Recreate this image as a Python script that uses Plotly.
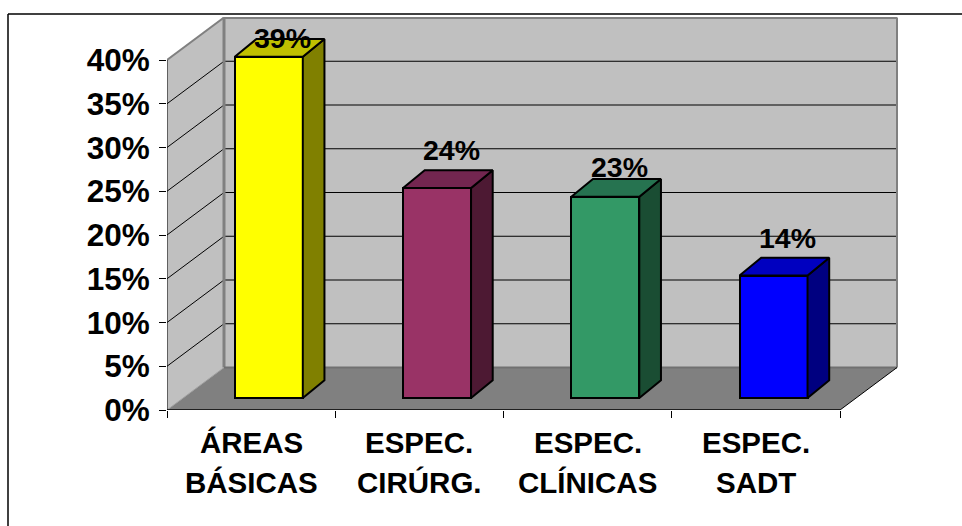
import plotly.graph_objects as go

# ---- data
categories = [["ÁREAS", "BÁSICAS"], ["ESPEC.", "CIRÚRG."], ["ESPEC.", "CLÍNICAS"], ["ESPEC.", "SADT"]]
values = [39, 24, 23, 14]
y_ticks = [0, 5, 10, 15, 20, 25, 30, 35, 40]

# ---- styles
front_colors = ["#FFFF00", "#993366", "#339966", "#0000FF"]
side_colors = ["#808000", "#4D1933", "#1A4D33", "#000080"]
top_colors = ["#C0C000", "#732650", "#267350", "#0000C0"]
label_lift_px = [19, 38, 30, 38]     # manual placement above each front top edge
FONT = "Liberation Sans"

# ---- geometry (page pixels -> axis units)
W, H = 962, 526
L, R, T, B = 167, 898, 17, 410
PX_X = 168.25
PX_Y = 8.75
X0 = -0.5
X_MAX = X0 + (R - L) / PX_X
Y_MAX = (B - T) / PX_Y
DX = 57 / PX_X          # depth of the floor
DY = 42.5 / PX_Y
BAR_W = 68 / PX_X
D0, D1 = 0.31, 0.69     # bar's start/end within the depth (horizontal)
E0, E1 = 0.28, 0.70     # bar's start/end within the depth (vertical)
N = len(values)


def proj(x, y, d):
    return x + d * DX, y + d * DY


def bar_pt(x, y, near):
    return x + (D0 if near else D1) * DX, y + (E0 if near else E1) * DY


def px_paper(px, py):
    return (px - L) / (R - L), (B - py) / (B - T)


shapes = []


def poly(points, fill):
    path = "M" + " L".join(f"{x},{y}" for x, y in points) + " Z"
    shapes.append(dict(type="path", path=path, xref="x", yref="y", layer="below",
                       fillcolor=fill, line=dict(color=fill, width=0)))


def seg(a, b, color="#000000", width=1):
    shapes.append(dict(type="line", xref="x", yref="y", layer="below", x0=a[0], y0=a[1], x1=b[0], y1=b[1],
                       line=dict(color=color, width=width)))


XR = X0 + N
top = y_ticks[-1]
# walls and floor
poly([proj(X0, 0, 1), proj(XR, 0, 1), proj(XR, top, 1), proj(X0, top, 1)], "#C0C0C0")
poly([proj(X0, 0, 0), proj(X0, 0, 1), proj(X0, top, 1), proj(X0, top, 0)], "#C0C0C0")
poly([proj(X0, 0, 0), proj(XR, 0, 0), proj(XR, 0, 1), proj(X0, 0, 1)], "#808080")
# gridlines on both walls
for t in y_ticks[1:-1]:
    seg(proj(X0, t, 0), proj(X0, t, 1), "#000000", 1)
    seg(proj(X0, t, 1), proj(XR, t, 1), "#000000", 1)
# wall edges
seg(proj(X0, 0, 1), proj(X0, top, 1), "#808080", 3)
seg(proj(X0, top, 1), proj(XR, top, 1), "#808080", 3)
seg(proj(XR, top, 1), proj(XR, 0, 1), "#808080", 2)
seg(proj(X0, top, 0), proj(X0, top, 1), "#808080", 2)
seg(proj(X0, 0, 1), proj(XR, 0, 1), "#707070", 2)
seg(proj(X0, 0, 0), proj(X0, 0, 1), "#A0A0A0", 1)
# front axis lines
seg(proj(X0, 0, 0), proj(X0, top, 0), "#000000", 1)
seg(proj(X0, 0, 0), proj(XR, 0, 0), "#000000", 1.5)
seg(proj(XR, 0, 0), proj(XR, 0, 1), "#000000", 1)

# outer frame, open at the right and bottom
fx, fy = px_paper(8, 14)
_, by = px_paper(8, H)
rx, _ = px_paper(W, 14)
shapes.append(dict(type="line", xref="paper", yref="paper", x0=fx, x1=rx, y0=fy, y1=fy,
                   line=dict(color="#000000", width=1.5), layer="below"))
shapes.append(dict(type="line", xref="paper", yref="paper", x0=fx, x1=fx, y0=fy, y1=by,
                   line=dict(color="#000000", width=1.5), layer="below"))

fig = go.Figure()
xs = list(range(N))
lift = E0 * DY

# bars: front faces
fig.add_trace(go.Bar(
    x=[i + D0 * DX for i in xs], y=values, base=[lift] * N, width=BAR_W,
    marker=dict(color=front_colors, line=dict(color="#000000", width=2)),
    showlegend=False, hoverinfo="skip"))

# side and top faces
for i, v in enumerate(values):
    xl = i - BAR_W / 2
    xr = i + BAR_W / 2
    face_side = [bar_pt(xr, 0, True), bar_pt(xr, 0, False), bar_pt(xr, v, False), bar_pt(xr, v, True)]
    face_top = [bar_pt(xl, v, True), bar_pt(xr, v, True), bar_pt(xr, v, False), bar_pt(xl, v, False)]
    for face, color in ((face_side, side_colors[i]), (face_top, top_colors[i])):
        fx_, fy_ = zip(*face)
        fig.add_trace(go.Scatter(
            x=list(fx_) + [fx_[0]], y=list(fy_) + [fy_[0]],
            mode="lines", fill="toself", fillcolor=color,
            line=dict(color="#000000", width=2), showlegend=False, hoverinfo="skip"))

# data labels
for i, v in enumerate(values):
    fig.add_annotation(x=i + D0 * DX + 14 / PX_X, y=v + lift, xref="x", yref="y", text=f"{v}%",
                       showarrow=False, yshift=label_lift_px[i], xanchor="center", yanchor="middle",
                       font=dict(family=FONT, size=28.5, color="#000000", weight=700))

# category labels, two lines each
for i, lines in enumerate(categories):
    for k, line in enumerate(lines):
        fig.add_annotation(x=i, y=0, xref="x", yref="y", text=line, showarrow=False,
                           yshift=-(32.5 + 39.5 * k), xanchor="center", yanchor="middle",
                           font=dict(family=FONT, size=29.5, color="#000000", weight=700))

fig.update_layout(
    width=W, height=H, autosize=False,
    margin=dict(l=L, r=W - R, t=T, b=H - B, pad=0),
    paper_bgcolor="#FFFFFF", plot_bgcolor="rgba(0,0,0,0)",
    showlegend=False, shapes=shapes,
    bargap=0,
    xaxis=dict(range=[X0, X_MAX], showgrid=False, zeroline=False, showline=False, showticklabels=False,
               tickvals=[], ticks="",
               minor=dict(tickvals=[X0 + k for k in range(N + 1)], ticks="outside", ticklen=7,
                          tickcolor="#000000", tickwidth=1, showgrid=False)),
    yaxis=dict(range=[0, Y_MAX], showgrid=False, zeroline=False, showline=False,
               tickvals=y_ticks, ticktext=[f"{t}%" for t in y_ticks], ticks="outside", ticklen=7,
               tickcolor="#000000", tickwidth=1, ticklabelstandoff=3,
               tickfont=dict(family=FONT, size=31.5, color="#000000", weight=700)),
)

fig.write_html("out.html", post_script="document.body.style.margin='0';",
               config=dict(displayModeBar=False))
